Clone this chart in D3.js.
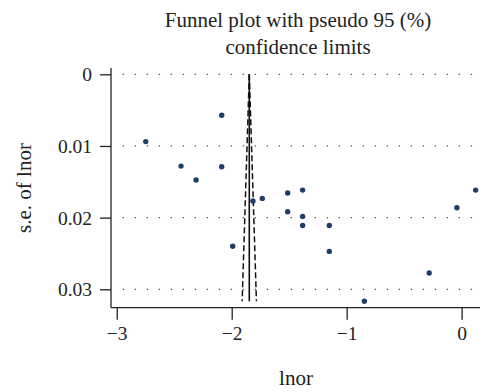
<!DOCTYPE html>
<html>
<head>
<meta charset="utf-8">
<script src="https://cdn.jsdelivr.net/npm/d3@7"></script>
<style>
  html, body { margin: 0; padding: 0; background: #fff; }
  svg { display: block; }
</style>
</head>
<body>
<svg id="chart" width="483" height="392"></svg>
<script>
// Study estimates: log odds ratio and its standard error
const lnor = [-2.748, -2.087, -2.441, -2.087, -2.310, -1.815, -1.734, -1.513, -1.513,
              -1.383, -1.383, -1.383, -1.151, -1.151, -0.282, -0.846, -0.041, 0.122, -1.991];
const seLnor = [0.00939, 0.00571, 0.01281, 0.01291, 0.01476, 0.01769, 0.01732, 0.01657, 0.01918,
                0.01616, 0.01983, 0.02109, 0.02109, 0.02471, 0.02772, 0.03167, 0.01862, 0.01616, 0.0240];

// Pooled estimate and the largest s.e. used for the pseudo 95% limits
const pooled = -1.847;
const seMax = 0.03167;
const z95 = 1.96;

const xTicks = [-3, -2, -1, 0];
const yTicks = [0, 0.01, 0.02, 0.03];
const xTickLabels = ["\u22123", "\u22122", "\u22121", "0"];
const yTickLabels = ["0", "0.01", "0.02", "0.03"];

const titleLines = ["Funnel plot with pseudo 95 (%)", "confidence limits"];
const xTitle = "lnor";
const yTitle = "s.e. of lnor";

const FONT = "Liberation Serif";
const INK = "#222";

const svg = d3.select("#chart");

const x = d3.scaleLinear().domain([-3.05, 0.16]).range([111, 480]);
const y = d3.scaleLinear().domain([-0.00088, 0.03257]).range([68, 307.7]);

// Dotted horizontal gridlines
const gridStart = 122.7, gridEnd = 478;
svg.append("g").selectAll("line").data(yTicks).join("line")
  .attr("x1", gridStart).attr("x2", gridEnd)
  .attr("y1", d => y(d)).attr("y2", d => y(d))
  .attr("stroke", "#555").attr("stroke-width", 1.3)
  .attr("stroke-dasharray", "1.4 10.6");

// Funnel: pooled line and pseudo 95% limits
const funnel = svg.append("g").attr("fill", "none").attr("stroke", "#111");
funnel.append("line")
  .attr("x1", x(pooled)).attr("x2", x(pooled))
  .attr("y1", y(0)).attr("y2", y(seMax))
  .attr("stroke-width", 1.6);
[-1, 1].forEach(s => {
  funnel.append("line")
    .attr("x1", x(pooled)).attr("y1", y(0))
    .attr("x2", x(pooled + s * z95 * seMax)).attr("y2", y(seMax))
    .attr("stroke-width", 1.5)
    .attr("stroke-dasharray", "6 3");
});

// Study points
svg.append("g").selectAll("circle").data(lnor.map((v, i) => [v, seLnor[i]])).join("circle")
  .attr("cx", d => x(d[0])).attr("cy", d => y(d[1]))
  .attr("r", 2.7).attr("fill", "#1f3d6b");

// Axes
const yAxis = d3.axisLeft(y).tickValues(yTicks).tickSize(11).tickPadding(8)
  .tickFormat((d, i) => yTickLabels[i]);
const gy = svg.append("g").attr("transform", `translate(${x.range()[0]},0)`).call(yAxis);
const xAxis = d3.axisBottom(x).tickValues(xTicks).tickSize(12).tickPadding(6)
  .tickFormat((d, i) => xTickLabels[i]);
const gx = svg.append("g").attr("transform", `translate(0,${y.range()[1]})`).call(xAxis);

[gx, gy].forEach(g => {
  g.attr("font-family", FONT).attr("font-size", 19.5);
  g.select(".domain").attr("stroke", INK).attr("stroke-width", 1.3);
  g.selectAll(".tick line").attr("stroke", INK).attr("stroke-width", 1.3);
  g.selectAll(".tick text").attr("fill", INK);
});
// Plain axis lines without outer ticks
gx.select(".domain").attr("d", `M${x.range()[0]},0H${x.range()[1]}`);
gy.select(".domain").attr("d", `M0,${y.range()[0]}V${y.range()[1]}`);
gy.selectAll(".tick text").attr("dy", "0.34em");

// Titles
svg.append("g").selectAll("text").data(titleLines).join("text")
  .attr("x", 298).attr("y", (d, i) => 27 + i * 26.5)
  .attr("text-anchor", "middle")
  .attr("font-family", FONT).attr("font-size", 21).attr("fill", INK)
  .text(d => d);

svg.append("text")
  .attr("x", 296).attr("y", 385)
  .attr("text-anchor", "middle")
  .attr("font-family", FONT).attr("font-size", 21).attr("fill", INK)
  .text(xTitle);

svg.append("text")
  .attr("transform", "translate(31,188) rotate(-90)")
  .attr("text-anchor", "middle")
  .attr("font-family", FONT).attr("font-size", 21).attr("fill", INK)
  .text(yTitle);
</script>
</body>
</html>
